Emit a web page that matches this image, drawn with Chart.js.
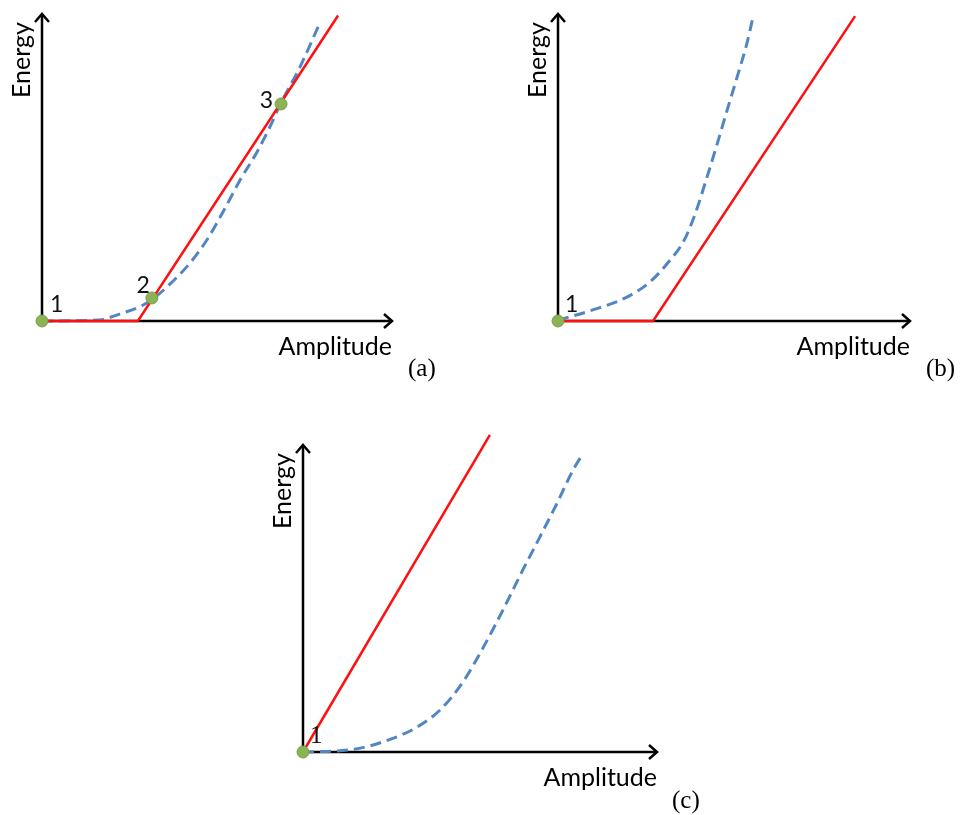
<!DOCTYPE html>
<html>
<head>
<meta charset="utf-8">
<script src="https://cdn.jsdelivr.net/npm/chart.js@4"></script>
<style>
    body { margin: 0; background: #fff; }
    #wrap { position: relative; width: 960px; height: 815px; }
    canvas { position: absolute; left: 0; top: 0; }
</style>
</head>
<body>
<div id="wrap">
    <canvas id="panelA" width="960" height="815"></canvas>
    <canvas id="panelB" width="960" height="815"></canvas>
    <canvas id="panelC" width="960" height="815"></canvas>
</div>
<script>
// axis units: amplitude 0..10 and energy 0..10 up to the arrow tips

// (a)
const redA_x = [0, 2.74, 8.46];
const redA_y = [0, 0, 9.95];
const blueA_x = [0, 1.57, 2.31, 2.89, 3.17, 3.57, 4.23, 4.71, 5.17, 5.66, 6.14, 6.51, 6.80, 7.37, 7.94];
const blueA_y = [0, 0.03, 0.26, 0.52, 0.72, 1.11, 1.89, 2.64, 3.55, 4.59, 5.50, 6.32, 7.04, 8.27, 9.71];
const dotsA_x = [0, 3.14, 6.83];
const dotsA_y = [0, 0.75, 7.07];
const dotsA_labels = ['1', '2', '3'];

// (b)
const redB_x = [0, 2.7, 8.44];
const redB_y = [0, 0, 9.93];
const blueB_x = [0, 0.99, 1.96, 2.61, 3.14, 3.58, 3.90, 4.21, 4.52, 4.80, 5.09, 5.37, 5.54];
const blueB_y = [0.03, 0.36, 0.78, 1.27, 1.92, 2.62, 3.50, 4.60, 5.76, 6.85, 7.95, 9.06, 9.90];
const dotsB_x = [0];
const dotsB_y = [0];
const dotsB_labels = ['1'];

// (c)
const redC_x = [0, 5.28];
const redC_y = [0, 10.33];
const blueC_x = [0, 1.33, 2.26, 3.22, 3.90, 4.50, 5.08, 5.65, 6.21, 6.69, 7.18, 7.63, 7.91];
const blueC_y = [0, 0.07, 0.33, 0.81, 1.40, 2.25, 3.38, 4.63, 5.93, 7.00, 8.11, 9.19, 9.72];
const dotsC_x = [0];
const dotsC_y = [0];
const dotsC_labels = ['1'];

const xTitle = 'Amplitude';
const yTitle = 'Energy';

function pts(xs, ys) {
    return xs.map((x, i) => ({ x: x, y: ys[i] }));
}

// page layout of each panel (origin, arrow tips) and label placement
const panels = [
    {
        id: 'panelA', letter: '(a)', letterAt: [408, 376],
        origin: [42, 321], tipX: 392, tipY: 14, yMax: 10.1,
        red: pts(redA_x, redA_y), blue: pts(blueA_x, blueA_y), dots: pts(dotsA_x, dotsA_y), labels: dotsA_labels,
        labelOffsets: [[8, -9, 'left'], [-2, -5, 'right'], [-8, 4, 'right']],
        numFont: '23px Lato'
    },
    {
        id: 'panelB', letter: '(b)', letterAt: [926, 376],
        origin: [558, 321], tipX: 910, tipY: 14, yMax: 10.1,
        red: pts(redB_x, redB_y), blue: pts(blueB_x, blueB_y), dots: pts(dotsB_x, dotsB_y), labels: dotsB_labels,
        labelOffsets: [[7, -9, 'left']],
        numFont: '23px Lato'
    },
    {
        id: 'panelC', letter: '(c)', letterAt: [672, 808],
        origin: [303, 752], tipX: 657, tipY: 445, yMax: 10.45,
        red: pts(redC_x, redC_y), blue: pts(blueC_x, blueC_y), dots: pts(dotsC_x, dotsC_y), labels: dotsC_labels,
        labelOffsets: [[7, -9, 'left']],
        numFont: '25px "Liberation Serif"'
    }
];

const sketchPlugin = {
    id: 'sketch',
    beforeDatasetsDraw(chart) {
        const p = chart.options.plugins.sketch.panel;
        const ctx = chart.ctx;
        const xs = chart.scales.x, ys = chart.scales.y;
        const x0 = xs.getPixelForValue(0), y0 = ys.getPixelForValue(0);
        const x1 = xs.getPixelForValue(10), y1 = ys.getPixelForValue(10);
        ctx.save();
        ctx.strokeStyle = '#000';
        ctx.fillStyle = '#000';
        ctx.lineWidth = 2.5;
        ctx.lineCap = 'butt';
        ctx.beginPath();
        ctx.moveTo(x0, y0);
        ctx.lineTo(x1 - 2, y0);
        ctx.moveTo(x0, y0);
        ctx.lineTo(x0, y1 + 2);
        ctx.stroke();
        // arrow heads
        ctx.lineJoin = 'miter';
        ctx.beginPath();
        ctx.moveTo(x1 - 8, y0 - 7);
        ctx.lineTo(x1, y0);
        ctx.lineTo(x1 - 8, y0 + 7);
        ctx.moveTo(x0 - 7, y1 + 8);
        ctx.lineTo(x0, y1);
        ctx.lineTo(x0 + 7, y1 + 8);
        ctx.stroke();

        ctx.font = '25px Lato';
        ctx.textBaseline = 'alphabetic';
        ctx.textAlign = 'right';
        ctx.fillText(xTitle, x1, y0 + 34);
        ctx.save();
        ctx.translate(x0 - 12, y1 + 46);
        ctx.rotate(-Math.PI / 2);
        ctx.textAlign = 'center';
        ctx.fillText(yTitle, 0, 0);
        ctx.restore();

        ctx.font = '25px "Liberation Serif"';
        ctx.textAlign = 'left';
        ctx.fillText(p.letter, p.letterAt[0], p.letterAt[1]);
        ctx.restore();
    },
    afterDatasetsDraw(chart) {
        const p = chart.options.plugins.sketch.panel;
        const ctx = chart.ctx;
        const meta = chart.getDatasetMeta(0);
        ctx.save();
        ctx.fillStyle = '#111';
        ctx.font = p.numFont;
        ctx.textBaseline = 'alphabetic';
        meta.data.forEach((el, i) => {
            const off = p.labelOffsets[i];
            ctx.textAlign = off[2];
            ctx.fillText(p.labels[i], el.x + off[0], el.y + off[1]);
        });
        ctx.restore();
    }
};

panels.forEach(p => {
    const unitY = (p.origin[1] - p.tipY) / 10;
    const top = p.origin[1] - unitY * p.yMax;
    new Chart(document.getElementById(p.id), {
        type: 'scatter',
        data: {
            datasets: [
                {
                    label: 'points',
                    data: p.dots,
                    pointRadius: 6,
                    pointBackgroundColor: '#8cb256',
                    pointBorderColor: '#79a046',
                    pointBorderWidth: 1,
                    showLine: false,
                    clip: false
                },
                {
                    label: 'linear',
                    data: p.red,
                    showLine: true,
                    borderColor: '#ff1010',
                    borderWidth: 2.5,
                    pointRadius: 0,
                    tension: 0,
                    clip: false
                },
                {
                    label: 'actual',
                    data: p.blue,
                    showLine: true,
                    borderColor: '#5285c4',
                    borderWidth: 3,
                    borderDash: [11, 6],
                    pointRadius: 0,
                    cubicInterpolationMode: 'monotone',
                    clip: false
                }
            ]
        },
        options: {
            responsive: false,
            animation: false,
            layout: {
                padding: {
                    left: p.origin[0],
                    right: 960 - p.tipX,
                    top: top,
                    bottom: 815 - p.origin[1]
                }
            },
            scales: {
                x: { type: 'linear', min: 0, max: 10, display: false },
                y: { type: 'linear', min: 0, max: p.yMax, display: false }
            },
            plugins: {
                legend: { display: false },
                tooltip: { enabled: false },
                sketch: { panel: p }
            }
        },
        plugins: [sketchPlugin]
    });
});
</script>
</body>
</html>
